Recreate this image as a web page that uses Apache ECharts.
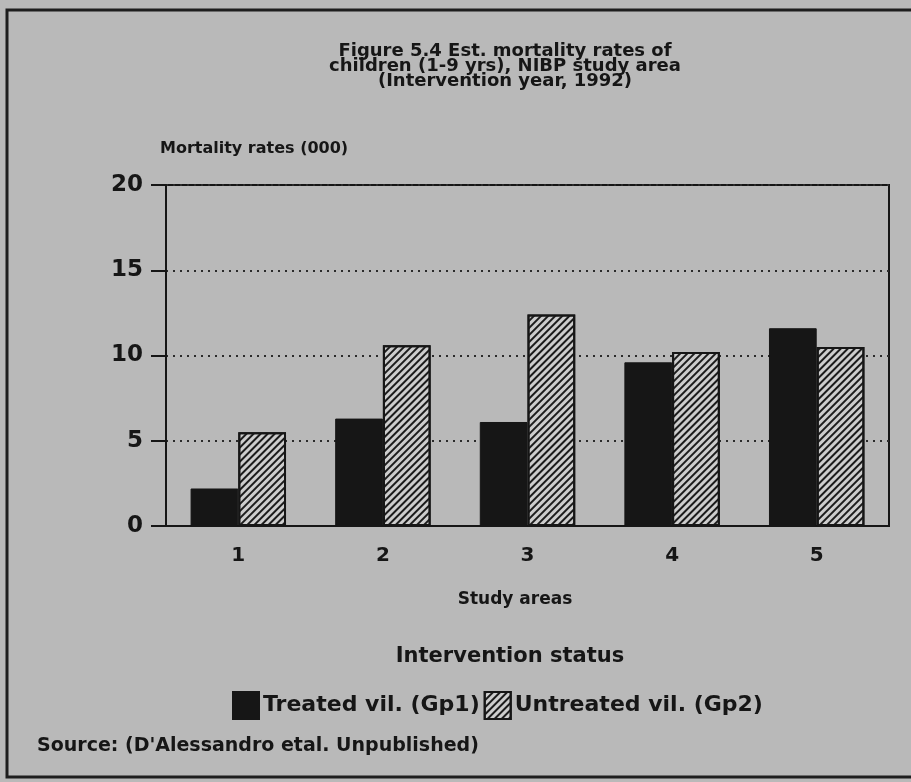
<!DOCTYPE html>
<html>
<head>
<meta charset="utf-8">
<script src="https://cdn.jsdelivr.net/npm/echarts@6/dist/echarts.min.js"></script>
<style>
  html, body { margin: 0; padding: 0; background: #b9b9b9; }
  #chart { width: 911px; height: 782px; }
</style>
</head>
<body>
<div id="chart"></div>
<script>
// data
const areas = ['1', '2', '3', '4', '5'];
const treated = [2.2, 6.3, 6.1, 9.6, 11.6];
const untreated = [5.5, 10.6, 12.4, 10.2, 10.5];
const seriesNames = ['Treated vil. (Gp1)', 'Untreated vil. (Gp2)'];
const titleLines = [
  'Figure 5.4 Est. mortality rates of',
  'children (1-9 yrs), NIBP study area',
  '(Intervention year, 1992)'
];

const FONT = '"DejaVu Sans", sans-serif';
const INK = '#161616';

const chart = echarts.init(document.getElementById('chart'));

// diagonal "////" hatching for the untreated bars
const hatch = {
  symbol: 'rect',
  symbolSize: 1,
  dashArrayX: [[1, 0]],
  dashArrayY: [1.3, 2.2],
  rotation: -Math.PI / 4,
  color: '#1c1c1c'
};

const option = {
  backgroundColor: '#b9b9b9',
  animation: false,
  grid: {
    left: 166,
    right: 22,
    top: 185,
    bottom: 256,
    show: true,
    borderColor: INK,
    borderWidth: 2,
    backgroundColor: 'transparent'
  },
  xAxis: {
    type: 'category',
    data: areas,
    axisLine: { lineStyle: { color: INK, width: 2 } },
    axisTick: { alignWithLabel: true, length: 8, lineStyle: { color: INK, width: 2 } },
    axisLabel: { margin: 20, color: INK, fontFamily: FONT, fontWeight: 'bold', fontSize: 20 },
    splitLine: { show: false }
  },
  yAxis: {
    type: 'value',
    min: 0,
    max: 20,
    interval: 5,
    axisLine: { show: true, lineStyle: { color: INK, width: 2 } },
    axisTick: { show: true, length: 15, lineStyle: { color: INK, width: 2 } },
    axisLabel: { margin: 23, color: INK, fontFamily: FONT, fontWeight: 'bold', fontSize: 23 },
    splitLine: { lineStyle: { color: '#2a2a2a', width: 2, type: [2, 5] } }
  },
  legend: {
    left: 227,
    top: 686,
    icon: 'rect',
    itemWidth: 26,
    itemHeight: 27,
    itemGap: 4,
    data: seriesNames,
    textStyle: { color: INK, fontFamily: FONT, fontWeight: 'bold', fontSize: 22, padding: [0, 0, 0, -1] }
  },
  series: [
    {
      name: seriesNames[0],
      type: 'bar',
      data: treated,
      barGap: '0%',
      barCategoryGap: '34%',
      itemStyle: { color: '#161616', borderColor: INK, borderWidth: 1 }
    },
    {
      name: seriesNames[1],
      type: 'bar',
      data: untreated,
      itemStyle: { color: '#cdcdcd', borderColor: INK, borderWidth: 2, decal: hatch }
    }
  ],
  graphic: [
    {
      type: 'rect',
      shape: { x: 7, y: 10, width: 920, height: 767 },
      style: { fill: 'transparent', stroke: '#1e1e1e', lineWidth: 3 },
      silent: true
    },
    {
      type: 'text',
      x: 505,
      y: 44,
      style: {
        text: titleLines.join('\n'),
        align: 'center',
        verticalAlign: 'top',
        lineHeight: 15,
        font: 'bold 18px ' + FONT,
        fill: INK
      }
    },
    {
      type: 'text',
      x: 160,
      y: 149,
      style: {
        text: 'Mortality rates (000)',
        align: 'left',
        verticalAlign: 'middle',
        font: 'bold 16px ' + FONT,
        fill: INK
      }
    },
    {
      type: 'text',
      x: 515,
      y: 600,
      style: {
        text: 'Study areas',
        align: 'center',
        verticalAlign: 'middle',
        font: 'bold 17px ' + FONT,
        fill: INK
      }
    },
    {
      type: 'text',
      x: 510,
      y: 657,
      style: {
        text: 'Intervention status',
        align: 'center',
        verticalAlign: 'middle',
        font: 'bold 21px ' + FONT,
        fill: INK
      }
    },
    {
      type: 'text',
      x: 37,
      y: 746,
      style: {
        text: "Source: (D'Alessandro etal. Unpublished)",
        align: 'left',
        verticalAlign: 'middle',
        font: 'bold 19px ' + FONT,
        fill: INK
      }
    }
  ]
};

chart.setOption(option);
window.addEventListener('resize', () => chart.resize());
</script>
</body>
</html>
